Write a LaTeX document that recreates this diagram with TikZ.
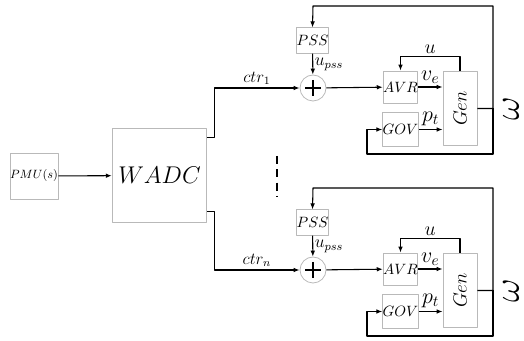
\RequirePackage{fix-cm}
\documentclass[tikz,border=0pt]{standalone}
\usetikzlibrary{arrows.meta,positioning,calc}
\newcommand{\blktext}[1]{\scalebox{1.12}{$#1$}}
\begin{document}
\begin{tikzpicture}[x=0.75pt,y=-0.75pt,line join=round,>={Latex[length=4.5pt,width=3.5pt]},line width=0.8pt]
	\tikzset{blk/.style={draw=gray!55,line width=0.6pt,fill=white,inner sep=0pt,font=\fontsize{10}{12}\selectfont},
		sumnode/.style={circle,draw=gray!55,line width=0.6pt,minimum size=19.5pt,inner sep=0pt},
		lbl/.style={font=\fontsize{14.4}{16}\selectfont,scale=1.15,inner sep=1pt}}
	\useasboundingbox (0,0) rectangle (524,341);
	\node[blk,minimum size=34.5pt,font=\fontsize{9}{10}\selectfont] (pmu) at (34,176) {$PMU(s)$};
	\node[blk,minimum size=71pt,font=\fontsize{17.28}{20}\selectfont] (wadc) at (159.5,175.5) {\scalebox{1.05}{$WADC$}};
	\draw[->] (pmu) -- (wadc);
	% one generator unit per controller output
	\foreach \u/\dy in {1/0,n/182}{
		\begin{scope}[yshift=-\dy*0.75pt]
			\node[blk,minimum width=22pt,minimum height=19pt] (pss\u) at (312.5,40.5) {\blktext{PSS}};
			\node[sumnode] (plus\u) at (313,88) {};
			\draw[line width=2pt] ($(plus\u)+(-8,0)$) -- ($(plus\u)+(8,0)$) ($(plus\u)+(0,-8)$) -- ($(plus\u)+(0,8)$);
			\node[blk,minimum width=23pt,minimum height=24pt] (avr\u) at (400.5,87) {\blktext{AVR}};
			\node[blk,minimum width=23pt,minimum height=25pt] (gov\u) at (400.5,129.5) {\blktext{GOV}};
			\node[blk,minimum width=25.5pt,minimum height=56pt,font=\fontsize{14.4}{16}\selectfont] (gen\u) at (460,108.5) {\rotatebox{90}{$Gen$}};
			\coordinate (fb\u) at (493,108.5);
			\node[rotate=90,font=\fontsize{24.88}{28}\selectfont,scale=1.1] (omega\u) at (511,108.5) {$\omega$};
			\draw[->] (pss\u) -- node[right=0pt,inner sep=1pt,font=\fontsize{12}{14}\selectfont,scale=1.1] {$u_{pss}$} (plus\u);
			\draw[->] (plus\u) -- (avr\u);
			\draw[->] (avr\u.east) -- node[lbl,above=1pt] {$v_e$} (avr\u.east -| gen\u.west);
			\draw[->] (gov\u.east) -- node[lbl,above=1.5pt] {$p_t$} (gov\u.east -| gen\u.west);
			\draw[->] (gen\u.north) -- ++(0,-14) -| node[lbl,pos=0.25,above=1pt,scale=0.9] {$u$} (avr\u.north);
			\draw[->] (gen\u.east) -- (fb\u) |- (313,6) -- (pss\u.north);
			\draw[->] (fb\u) |- (367,154) |- (gov\u.west);
		\end{scope}
	}
	\draw[->] ($(wadc.north east)+(0,10)$) -- ++(7,0) |- node[pos=0.75,above=1pt,inner sep=1pt,font=\fontsize{12}{14}\selectfont,scale=1.05] {$ctr_1$} (plus1.west);
	\draw[->] ($(wadc.south east)+(0,-12)$) -- ++(7,0) |- node[pos=0.75,above=1pt,inner sep=1pt,font=\fontsize{12}{14}\selectfont,scale=1.05] {$ctr_n$} (plusn.west);
	\draw[line width=1.4pt,dash pattern=on 6pt off 4pt] (277,156) -- (277,197);
\end{tikzpicture}
\end{document}
